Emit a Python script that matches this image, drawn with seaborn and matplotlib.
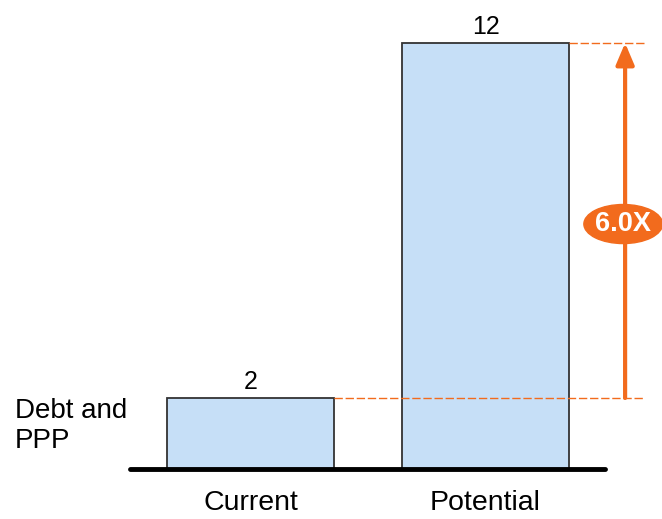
import matplotlib.pyplot as plt
import matplotlib.patches as mpatches
import seaborn as sns
import pandas as pd

# Data
categories = ['Current', 'Potential']
values = [2, 12]
side_label = 'Debt and\nPPP'
ratio_label = '6.0X'

df = pd.DataFrame({'Scenario': categories, 'Value': values})

sns.set_style('white')
plt.rcParams['font.family'] = ['Liberation Sans', 'DejaVu Sans']
plt.rcParams['text.color'] = 'black'
plt.rcParams['xtick.color'] = 'black'

orange = '#F26B1D'
fig = plt.figure(figsize=(6.62, 5.19), dpi=100)
ax = fig.add_axes([130 / 662, 50 / 519, 532 / 662, 469 / 519])

sns.barplot(data=df, x='Scenario', y='Value', ax=ax, color='#C6DFF7',
            edgecolor='#333333', linewidth=1.3, width=0.71, saturation=1)

ax.set_xlim(-0.513, 1.751)
ax.set_ylim(0, 13.21)
for s in ax.spines.values():
    s.set_visible(False)
ax.set_yticks([])
ax.set_xlabel('')
ax.set_ylabel('')
ax.tick_params(axis='x', length=0, labelsize=20.5, pad=15)

# baseline
ax.axhline(0, xmin=0, xmax=(1.509 + 0.513) / 2.264, color='black', lw=3.5,
           clip_on=False, zorder=5)

ax.bar_label(ax.containers[0], labels=[str(v) for v in values],
             fontsize=18, padding=3)

# dashed reference lines and arrow
lo, hi = min(values), max(values)
ax.plot([0.355, 1.68], [lo, lo], color=orange, lw=1, ls=(0, (6, 2)), zorder=1)
ax.plot([1.355, 1.68], [hi, hi], color=orange, lw=1, ls=(0, (6, 2)), zorder=1)
ax.annotate('', xy=(1.594, hi), xytext=(1.594, lo),
            arrowprops=dict(arrowstyle='-|>,head_length=1.3,head_width=0.55',
                            color=orange, lw=3, shrinkA=0, shrinkB=0))

badge_y = 6.9
ax.add_patch(mpatches.Ellipse((1.586, badge_y), 0.335, 1.1, color=orange,
                              zorder=6, clip_on=False))
ax.text(1.586, badge_y, ratio_label, ha='center', va='center', color='white',
        fontsize=19.5, fontweight='bold', zorder=7)

fig.text(15 / 662, 1 - 426 / 519, side_label, ha='left', va='center',
         fontsize=20, linespacing=1.2)

fig.savefig('out.png', dpi=100)
